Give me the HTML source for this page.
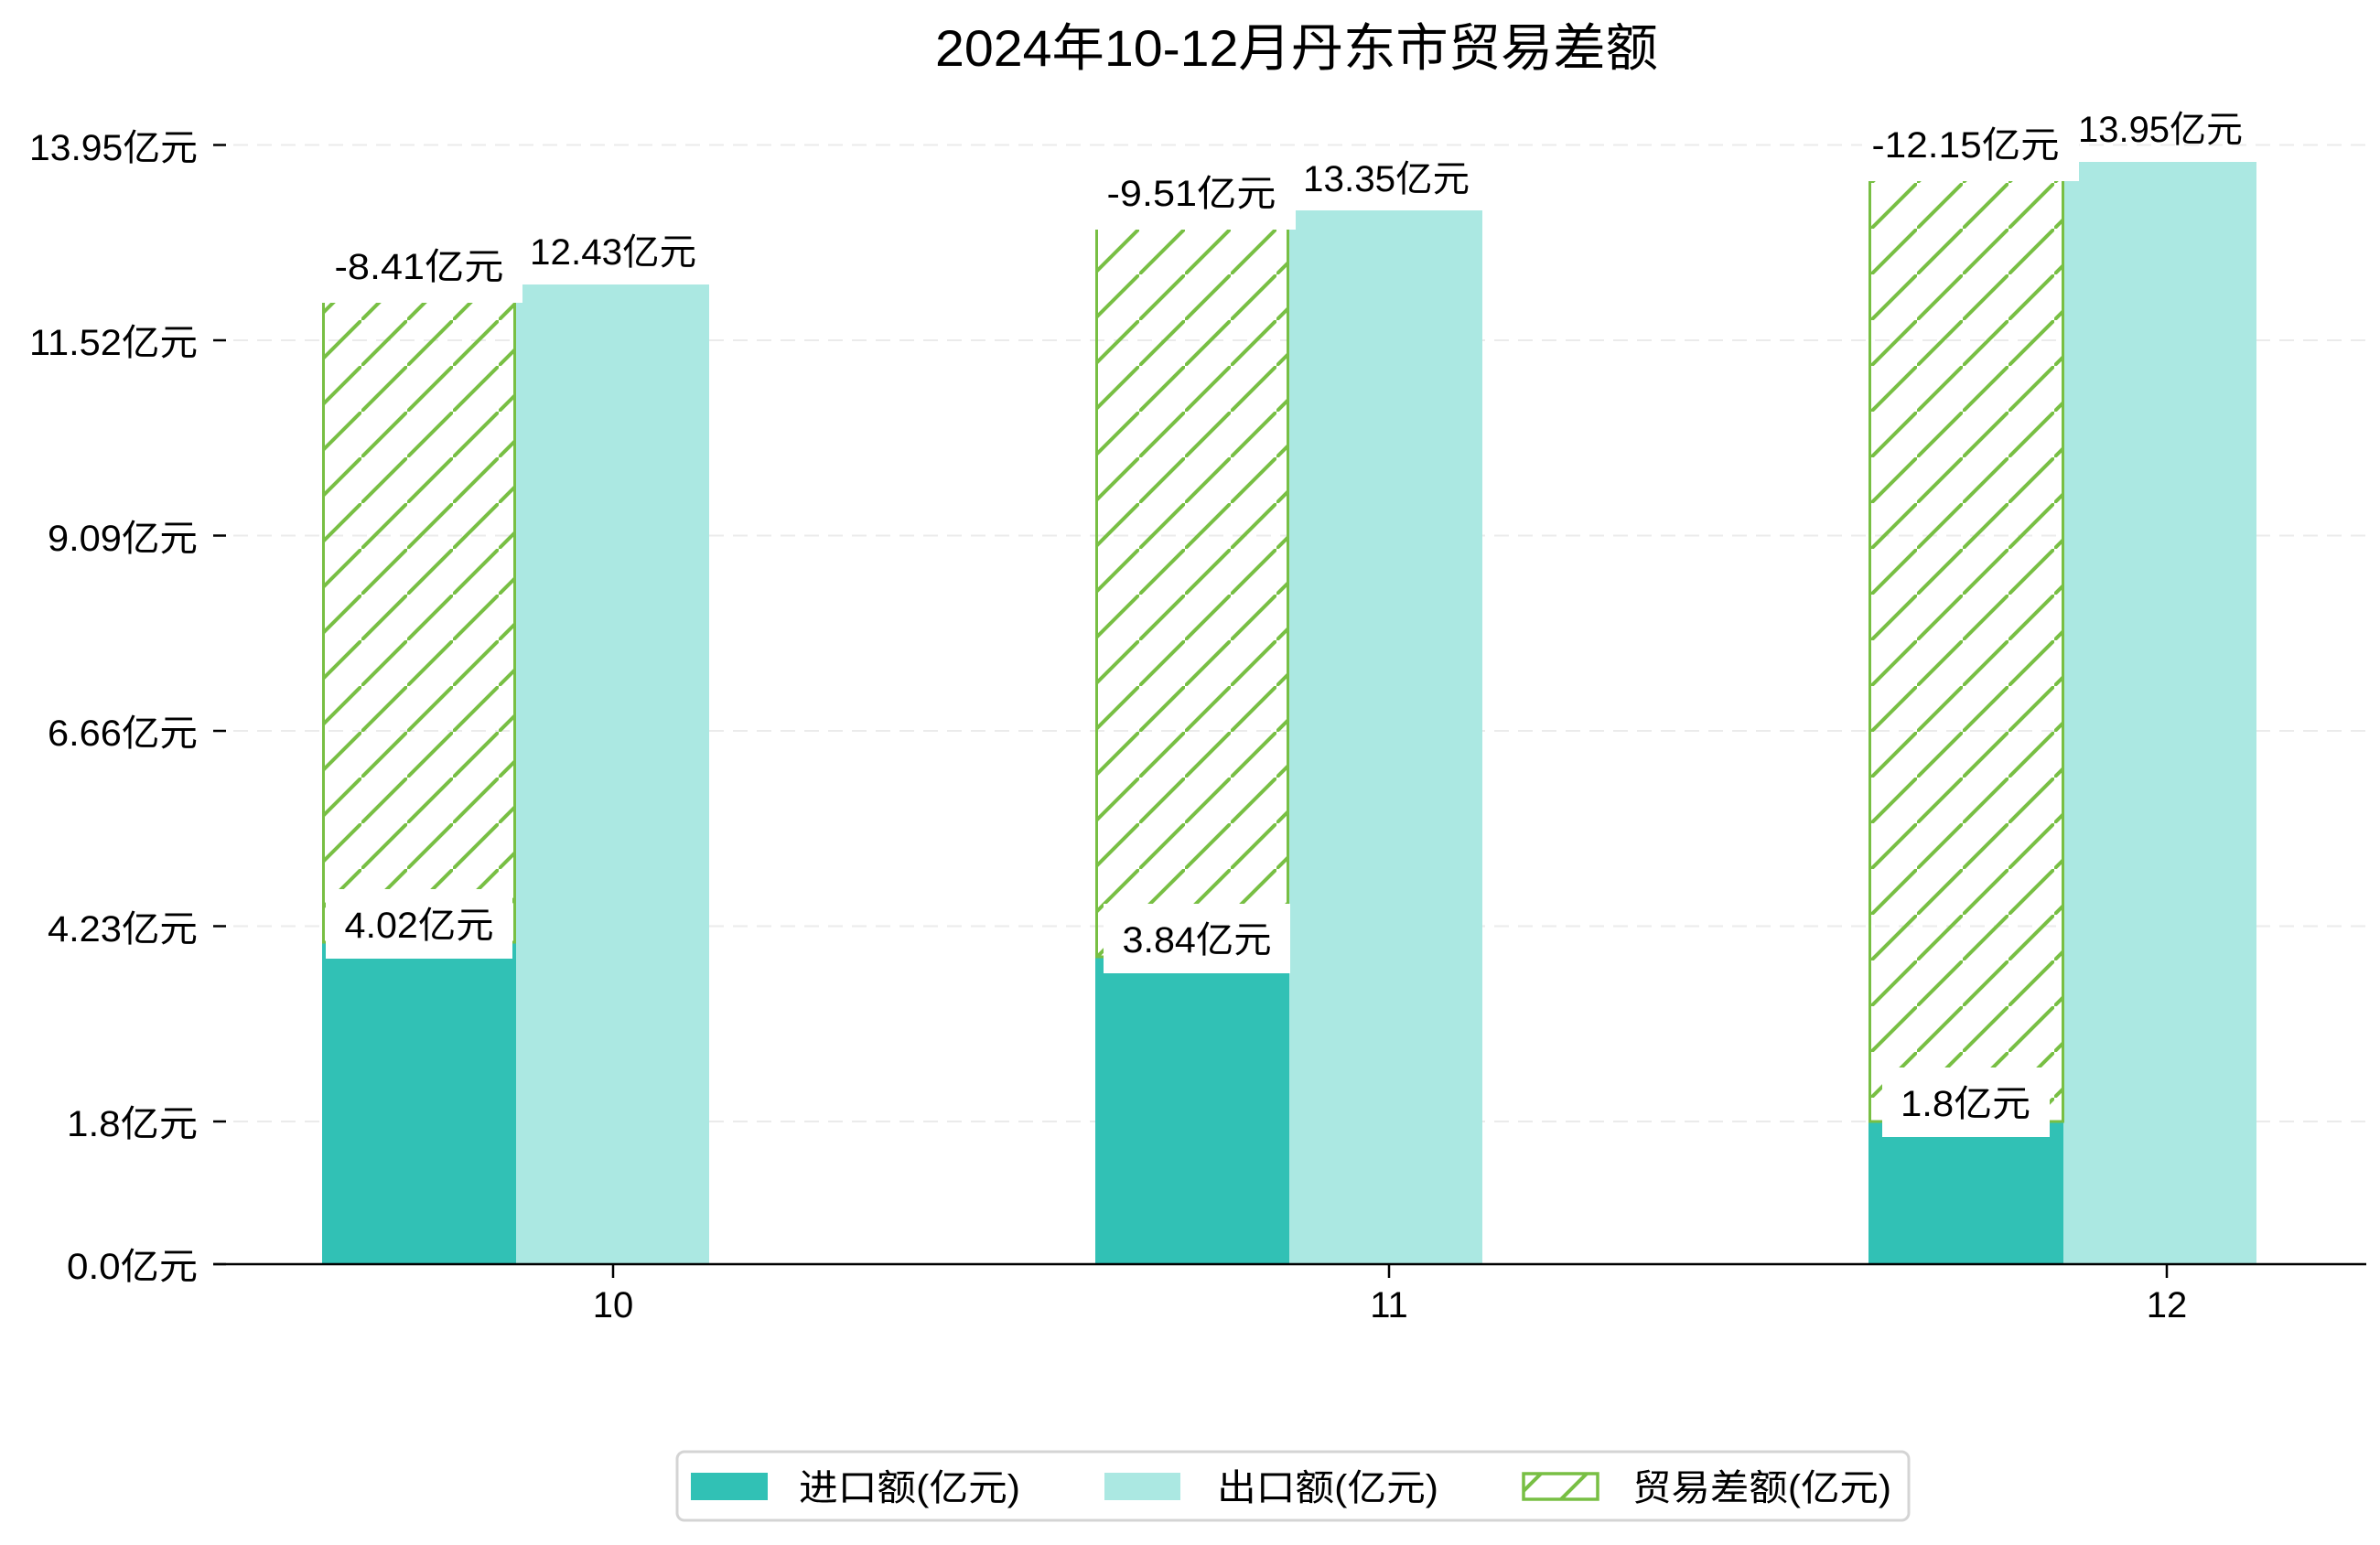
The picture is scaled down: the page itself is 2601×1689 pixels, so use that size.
<!DOCTYPE html>
<html><head><meta charset="utf-8"><style>html,body{margin:0;padding:0;background:#fff}svg{display:block}text{font-family:"Liberation Sans","Noto Sans CJK SC",sans-serif;fill:#000}</style></head>
<body>
<svg width="2601" height="1689" viewBox="0 0 2601 1689" xmlns="http://www.w3.org/2000/svg">
<defs>
<pattern id="h" patternUnits="userSpaceOnUse" x="45" y="0" width="50" height="50">
<line x1="-5" y1="55" x2="55" y2="-5" stroke="#78bf44" stroke-width="4"/>
</pattern>
</defs>
<rect width="2601" height="1689" fill="#fff"/>
<text x="1417" y="72" font-size="56" text-anchor="middle" textLength="790" lengthAdjust="spacingAndGlyphs">2024年10-12月丹东市贸易差额</text>
<g stroke="#ebebeb" stroke-width="2" stroke-dasharray="16,10">
<line x1="255" y1="158.5" x2="2590" y2="158.5"/>
<line x1="255" y1="372" x2="2590" y2="372"/>
<line x1="255" y1="585.5" x2="2590" y2="585.5"/>
<line x1="255" y1="799" x2="2590" y2="799"/>
<line x1="255" y1="1012.5" x2="2590" y2="1012.5"/>
<line x1="255" y1="1226" x2="2590" y2="1226"/>
</g>
<g stroke="#000" stroke-width="2.5">
<line x1="233" y1="158.5" x2="247" y2="158.5"/>
<line x1="233" y1="372" x2="247" y2="372"/>
<line x1="233" y1="585.5" x2="247" y2="585.5"/>
<line x1="233" y1="799" x2="247" y2="799"/>
<line x1="233" y1="1012.5" x2="247" y2="1012.5"/>
<line x1="233" y1="1226" x2="247" y2="1226"/>
<line x1="233" y1="1382" x2="247" y2="1382"/>
</g>
<g font-size="40" text-anchor="end">
<text x="216" y="175" textLength="184" lengthAdjust="spacingAndGlyphs">13.95亿元</text>
<text x="216" y="388" textLength="184" lengthAdjust="spacingAndGlyphs">11.52亿元</text>
<text x="216" y="602" textLength="164" lengthAdjust="spacingAndGlyphs">9.09亿元</text>
<text x="216" y="815" textLength="164" lengthAdjust="spacingAndGlyphs">6.66亿元</text>
<text x="216" y="1029" textLength="164" lengthAdjust="spacingAndGlyphs">4.23亿元</text>
<text x="216" y="1242" textLength="143" lengthAdjust="spacingAndGlyphs">1.8亿元</text>
<text x="216" y="1398" textLength="143" lengthAdjust="spacingAndGlyphs">0.0亿元</text>
</g>
<g fill="#31c1b5">
<rect x="352" y="1030" width="212" height="352"/>
<rect x="1197" y="1046" width="212" height="336"/>
<rect x="2042" y="1226" width="213" height="156"/>
</g>
<g fill="#abe8e2">
<rect x="564" y="311" width="211" height="1071"/>
<rect x="1409" y="230" width="211" height="1152"/>
<rect x="2255" y="177" width="211" height="1205"/>
</g>
<g fill="url(#h)" stroke="#78bf44" stroke-width="3">
<rect x="353.5" y="329" width="209" height="701"/>
<rect x="1198.5" y="249" width="209" height="797"/>
<rect x="2043.5" y="196" width="211" height="1030"/>
</g>
<g fill="#fff">
<rect x="345" y="255" width="226" height="76"/>
<rect x="1195" y="175" width="221" height="76"/>
<rect x="2035" y="122" width="237" height="76"/>
<rect x="356" y="972" width="204" height="76"/>
<rect x="1206" y="988" width="204" height="76"/>
<rect x="2057" y="1167" width="183" height="76"/>
</g>
<g font-size="40" text-anchor="middle">
<text x="458" y="305" textLength="185" lengthAdjust="spacingAndGlyphs">-8.41亿元</text>
<text x="1302" y="225" textLength="185" lengthAdjust="spacingAndGlyphs">-9.51亿元</text>
<text x="2148" y="172" textLength="205" lengthAdjust="spacingAndGlyphs">-12.15亿元</text>
<text x="670" y="289" textLength="182" lengthAdjust="spacingAndGlyphs">12.43亿元</text>
<text x="1515" y="209" textLength="182" lengthAdjust="spacingAndGlyphs">13.35亿元</text>
<text x="2361" y="155" textLength="180" lengthAdjust="spacingAndGlyphs">13.95亿元</text>
<text x="458" y="1025" textLength="163" lengthAdjust="spacingAndGlyphs">4.02亿元</text>
<text x="1308" y="1041" textLength="163" lengthAdjust="spacingAndGlyphs">3.84亿元</text>
<text x="2148" y="1220" textLength="142" lengthAdjust="spacingAndGlyphs">1.8亿元</text>
</g>
<line x1="233" y1="1382" x2="2586" y2="1382" stroke="#000" stroke-width="2.5"/>
<g stroke="#000" stroke-width="2.5">
<line x1="670" y1="1382" x2="670" y2="1397"/>
<line x1="1518" y1="1382" x2="1518" y2="1397"/>
<line x1="2368" y1="1382" x2="2368" y2="1397"/>
</g>
<g font-size="40" text-anchor="middle">
<text x="670" y="1440">10</text>
<text x="1518" y="1440">11</text>
<text x="2368" y="1440">12</text>
</g>
<rect x="740" y="1587" width="1346" height="75" rx="8" fill="#fff" stroke="#d4d4d4" stroke-width="3"/>
<rect x="755" y="1610" width="84" height="30" fill="#31c1b5"/>
<rect x="1207" y="1610" width="83" height="30" fill="#abe8e2"/>
<rect x="1665" y="1611" width="81" height="28" fill="url(#h)" stroke="#78bf44" stroke-width="3.5"/>
<g font-size="40">
<text x="873" y="1640" textLength="242" lengthAdjust="spacingAndGlyphs">进口额(亿元)</text>
<text x="1330" y="1640" textLength="242" lengthAdjust="spacingAndGlyphs">出口额(亿元)</text>
<text x="1784" y="1640" textLength="283" lengthAdjust="spacingAndGlyphs">贸易差额(亿元)</text>
</g>
</svg>
</body></html>
